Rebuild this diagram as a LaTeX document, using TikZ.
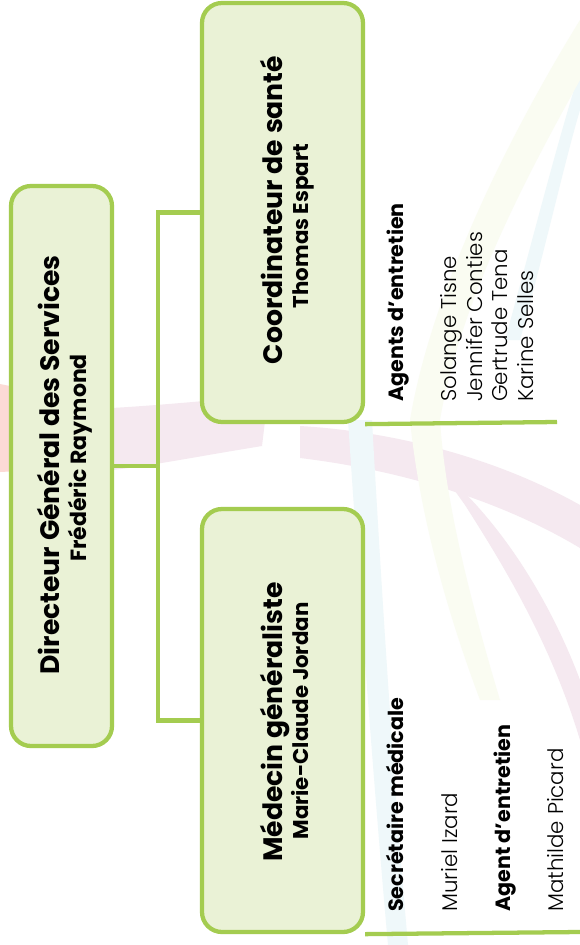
\documentclass[tikz,border=0pt]{standalone}
\usepackage{fontspec}
\setmainfont{Poppins}
\newfontfamily\lightfont{Poppins Light}
\definecolor{lgreen}{RGB}{164,204,80}
\definecolor{lfill}{RGB}{234,242,214}
\definecolor{swpink}{RGB}{245,233,240}
\definecolor{swred}{RGB}{252,218,214}
\definecolor{swblue}{RGB}{239,248,250}
\definecolor{swyellow}{RGB}{250,252,242}
\begin{document}
\begin{tikzpicture}[x=0.75pt,y=-0.75pt,
  box/.style={draw=lgreen, line width=3.2pt, fill=lfill, rounded corners=15pt, inner sep=0pt},
  conn/.style={draw=lgreen, line width=3.2pt},
  title/.style={rotate=90, anchor=base, inner sep=0pt, font=\bfseries\fontsize{20}{24}\selectfont},
  subtitle/.style={rotate=90, anchor=base, inner sep=0pt, font=\bfseries\fontsize{16}{19}\selectfont},
  heading/.style={rotate=90, anchor=base west, inner sep=0pt, font=\bfseries\fontsize{15.5}{19}\selectfont},
  person/.style={rotate=90, anchor=base west, inner sep=0pt, font=\lightfont\fontsize{16}{19}\selectfont}]
\useasboundingbox (0,0) rectangle (580,945);
\fill[white] (0,0) rectangle (580,945);
% faint background swooshes
\fill[swred] (0,384) -- (40,392) -- (112,408) -- (112,470) -- (40,470) -- (0,472) -- cycle;
\fill[swpink] (112,408) .. controls (180,404) and (230,398) .. (268,396) -- (262,446) .. controls (200,456) and (150,466) .. (112,470) -- cycle;
\fill[swpink] (300,426) .. controls (400,432) and (500,460) .. (580,505) -- (580,548) .. controls (500,500) and (400,470) .. (300,458) -- cycle;
\fill[swpink] (440,470) .. controls (500,520) and (550,600) .. (580,680) -- (580,740) .. controls (550,640) and (500,560) .. (465,505) -- cycle;
\fill[swblue] (348,420) .. controls (360,600) and (375,800) .. (388,945) -- (408,945) .. controls (395,800) and (382,600) .. (372,420) -- cycle;
\fill[swblue] (580,70) .. controls (555,150) and (530,250) .. (505,340) -- (520,340) .. controls (545,250) and (565,160) .. (580,110) -- cycle;
\fill[swyellow] (580,20) .. controls (500,150) and (430,300) .. (410,420) .. controls (420,520) and (450,620) .. (480,700) -- (500,700) .. controls (470,600) and (445,500) .. (440,420) .. controls (460,300) and (530,170) .. (580,80) -- cycle;
% boxes
\node[box, minimum width=75.75pt, minimum height=420pt] (dgs) at (61.5,466) {};
\node[box, minimum width=120.75pt, minimum height=314.25pt] (coord) at (282.5,212.5) {};
\node[box, minimum width=120.75pt, minimum height=317.25pt] (med) at (282.5,720.5) {};
% connectors
\coordinate (jn) at (158,466);
\coordinate (coordend) at (557,422);
\coordinate (medend) at (580,932);
\draw[conn] (dgs.east) -- (jn);
\draw[conn] (coord.west) -| (jn) |- (med.west);
\draw[conn] (coord.south east) -- (coordend);
\draw[conn] (med.south east) -- (medend);
% texts
\node[title] (dgst) at (59,465) {Directeur Général des Services};
\node[subtitle, font=\bfseries\fontsize{16.5}{19}\selectfont] (dgss) at (86,458) {Frédéric Raymond};
\node[title] (coordt) at (282,210) {Coordinateur de santé};
\node[subtitle] (coords) at (308,226) {Thomas Espart};
\node[title] (medt) at (282,722) {Médecin généraliste};
\node[subtitle] (meds) at (308,721) {Marie-Claude Jordan};
\node[heading] (h1) at (403,402) {Agents d'entretien};
\node[person] (p1) at (456,402) {Solange Tisne};
\node[person] (p2) at (482,402) {Jennifer Conties};
\node[person] (p3) at (507,402) {Gertrude Tena};
\node[person] (p4) at (533,402) {Karine Selles};
\node[heading] (h2) at (403,912) {Secrétaire médicale};
\node[person] (p5) at (457,912) {Muriel Izard};
\node[heading] (h3) at (510,912) {Agent d'entretien};
\node[person] (p6) at (563,912) {Mathilde Picard};
\end{tikzpicture}
\end{document}
